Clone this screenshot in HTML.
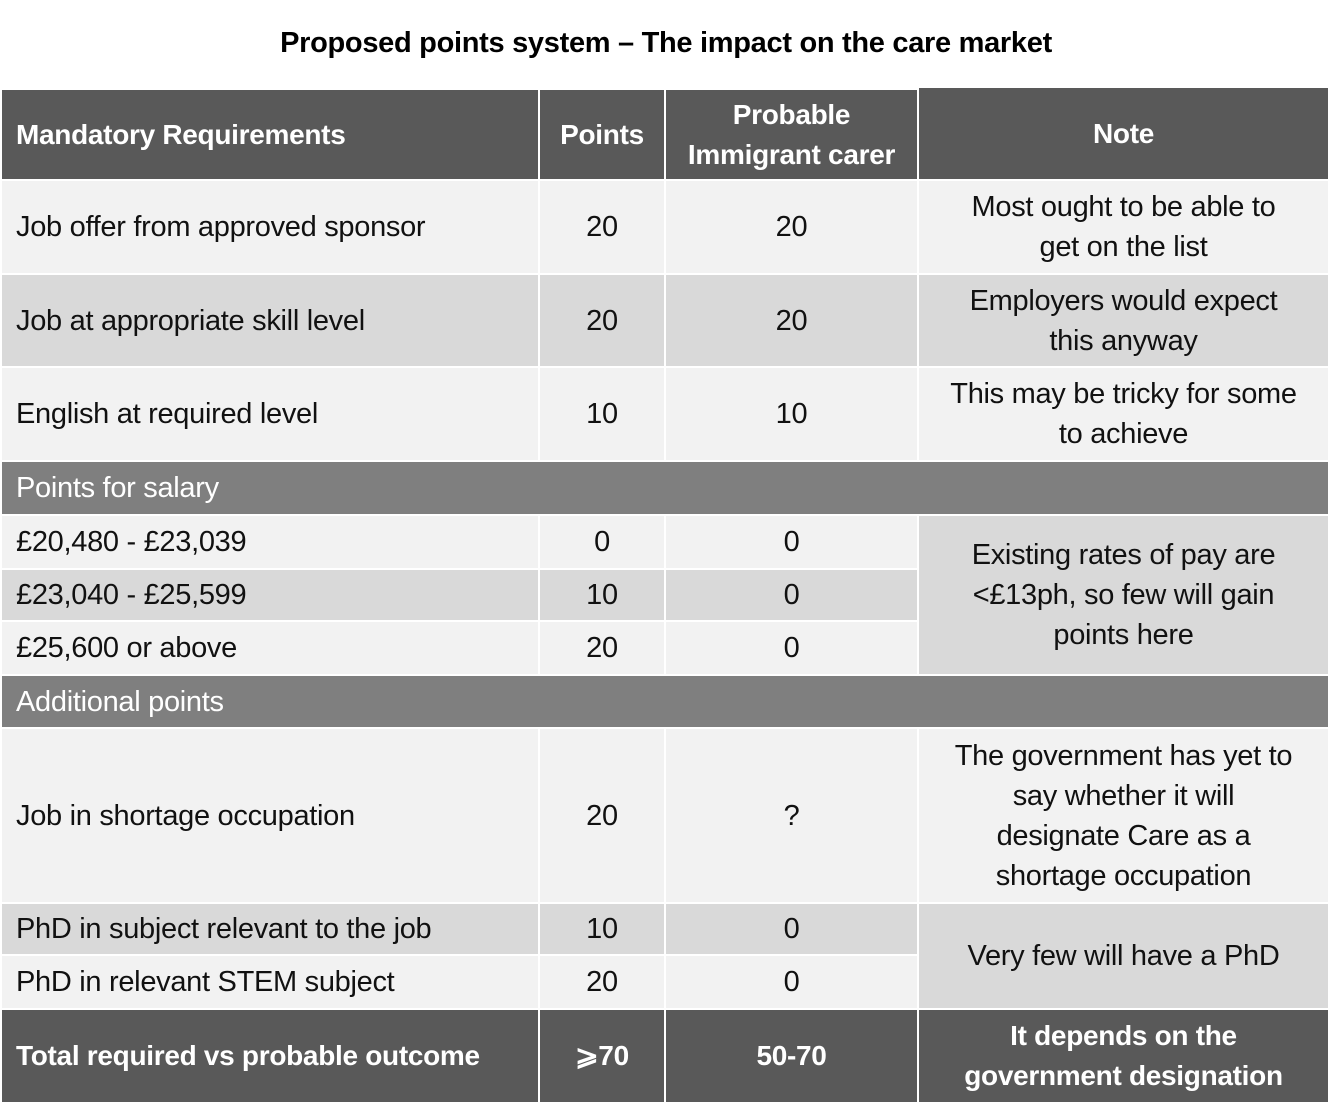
<!DOCTYPE html>
<html><head><meta charset="utf-8"><style>
body{margin:0;width:1332px;height:1117px;background:#fff;position:relative;overflow:hidden;font-family:"Liberation Sans",sans-serif;}
.c{position:absolute;display:flex;align-items:center;justify-content:center;text-align:center;font-size:29px;line-height:40px;color:#111;box-sizing:border-box;letter-spacing:-0.3px;}
.l{justify-content:flex-start;text-align:left;padding-left:14px;}
.h{background:#595959;color:#fff;font-weight:bold;font-size:28px;}
.s{background:#7f7f7f;color:#fff;}
.a{background:#f2f2f2;}
.b{background:#d9d9d9;}
.t{position:absolute;left:0;width:1332px;top:27px;text-align:center;font-weight:bold;font-size:29px;color:#000;letter-spacing:-0.3px;}
</style></head><body>
<div class="t">Proposed points system – The impact on the care market</div>

<div class="c h l" style="left:2px;top:90px;width:536px;height:89px">Mandatory Requirements</div>
<div class="c h" style="left:540px;top:90px;width:124px;height:89px">Points</div>
<div class="c h" style="left:666px;top:90px;width:251px;height:89px">Probable<br>Immigrant carer</div>
<div class="c h" style="left:919px;top:88px;width:409px;height:91px">Note</div>

<div class="c a l" style="left:2px;top:181px;width:536px;height:92px">Job offer from approved sponsor</div>
<div class="c a" style="left:540px;top:181px;width:124px;height:92px">20</div>
<div class="c a" style="left:666px;top:181px;width:251px;height:92px">20</div>
<div class="c a" style="left:919px;top:181px;width:409px;height:92px">Most ought to be able to<br>get on the list</div>

<div class="c b l" style="left:2px;top:275px;width:536px;height:91px">Job at appropriate skill level</div>
<div class="c b" style="left:540px;top:275px;width:124px;height:91px">20</div>
<div class="c b" style="left:666px;top:275px;width:251px;height:91px">20</div>
<div class="c b" style="left:919px;top:275px;width:409px;height:91px">Employers would expect<br>this anyway</div>

<div class="c a l" style="left:2px;top:368px;width:536px;height:92px">English at required level</div>
<div class="c a" style="left:540px;top:368px;width:124px;height:92px">10</div>
<div class="c a" style="left:666px;top:368px;width:251px;height:92px">10</div>
<div class="c a" style="left:919px;top:368px;width:409px;height:92px">This may be tricky for some<br>to achieve</div>

<div class="c s l" style="left:2px;top:462px;width:1326px;height:52px">Points for salary</div>

<div class="c a l" style="left:2px;top:516px;width:536px;height:52px">£20,480 - £23,039</div>
<div class="c a" style="left:540px;top:516px;width:124px;height:52px">0</div>
<div class="c a" style="left:666px;top:516px;width:251px;height:52px">0</div>
<div class="c b l" style="left:2px;top:570px;width:536px;height:50px">£23,040 - £25,599</div>
<div class="c b" style="left:540px;top:570px;width:124px;height:50px">10</div>
<div class="c b" style="left:666px;top:570px;width:251px;height:50px">0</div>
<div class="c a l" style="left:2px;top:622px;width:536px;height:52px">£25,600 or above</div>
<div class="c a" style="left:540px;top:622px;width:124px;height:52px">20</div>
<div class="c a" style="left:666px;top:622px;width:251px;height:52px">0</div>
<div class="c b" style="left:919px;top:516px;width:409px;height:158px">Existing rates of pay are<br>&lt;£13ph, so few will gain<br>points here</div>

<div class="c s l" style="left:2px;top:676px;width:1326px;height:51px">Additional points</div>

<div class="c a l" style="left:2px;top:729px;width:536px;height:173px">Job in shortage occupation</div>
<div class="c a" style="left:540px;top:729px;width:124px;height:173px">20</div>
<div class="c a" style="left:666px;top:729px;width:251px;height:173px">?</div>
<div class="c a" style="left:919px;top:729px;width:409px;height:173px">The government has yet to<br>say whether it will<br>designate Care as a<br>shortage occupation</div>

<div class="c b l" style="left:2px;top:904px;width:536px;height:50px">PhD in subject relevant to the job</div>
<div class="c b" style="left:540px;top:904px;width:124px;height:50px">10</div>
<div class="c b" style="left:666px;top:904px;width:251px;height:50px">0</div>
<div class="c a l" style="left:2px;top:956px;width:536px;height:52px">PhD in relevant STEM subject</div>
<div class="c a" style="left:540px;top:956px;width:124px;height:52px">20</div>
<div class="c a" style="left:666px;top:956px;width:251px;height:52px">0</div>
<div class="c b" style="left:919px;top:904px;width:409px;height:104px">Very few will have a PhD</div>

<div class="c h l" style="left:2px;top:1010px;width:536px;height:92px">Total required vs probable outcome</div>
<div class="c h" style="left:540px;top:1010px;width:124px;height:92px">⩾70</div>
<div class="c h" style="left:666px;top:1010px;width:251px;height:92px">50-70</div>
<div class="c h" style="left:919px;top:1010px;width:409px;height:92px">It depends on the<br>government designation</div>
</body></html>
